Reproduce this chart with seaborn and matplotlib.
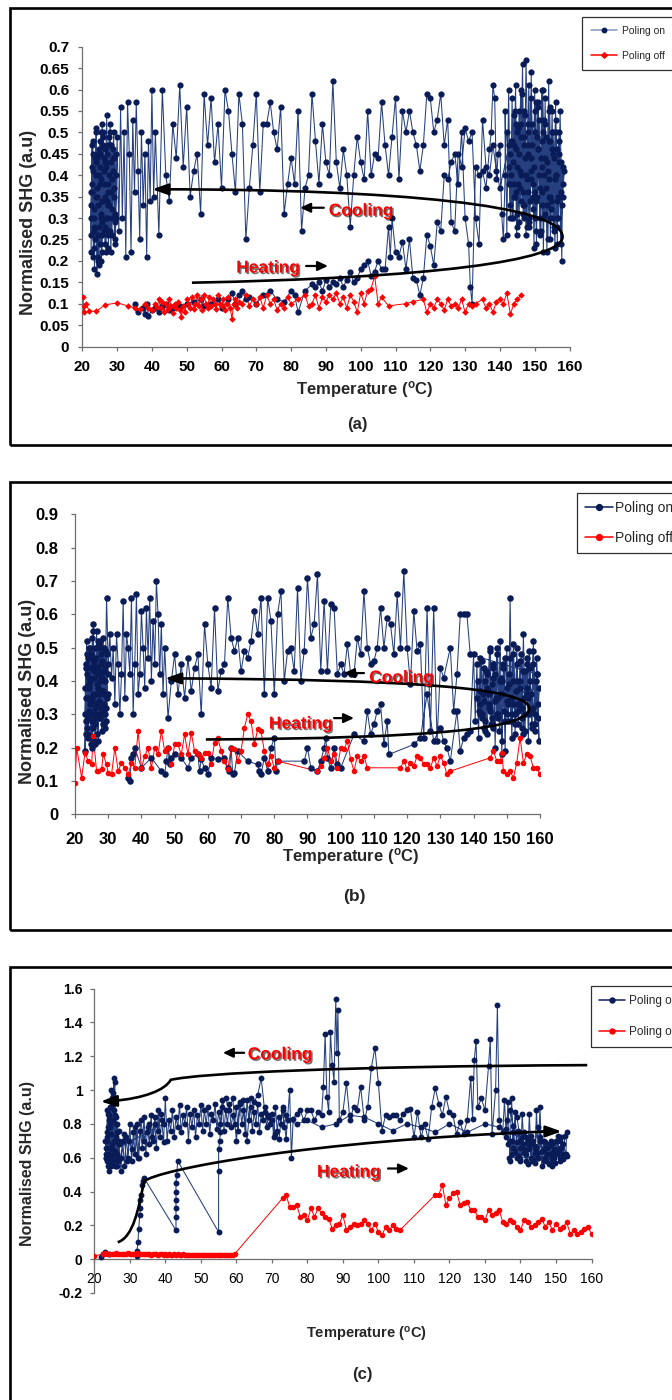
import numpy as np
import pandas as pd
import seaborn as sns
import matplotlib.pyplot as plt
import matplotlib.patheffects as pe
from matplotlib.path import Path
from matplotlib.patches import PathPatch, Rectangle
from matplotlib.lines import Line2D
from matplotlib.ticker import FuncFormatter

# ---------------------------------------------------------------- panel (a)
a_heat_T = [35, 36, 37.5, 38, 38.5, 39, 40, 41, 42, 43,
            44, 45, 46, 48, 50, 52, 54, 55, 57, 59,
            60, 62, 63, 64, 65, 66, 67, 68, 70, 72,
            74, 76, 78, 80, 81, 82, 84, 86, 87, 88,
            89, 90, 91, 92, 93, 94, 95, 96, 97, 98,
            99, 100, 101, 102, 103, 104, 105, 106, 107, 108,
            108.5, 109, 110, 111, 112, 113, 114, 115, 116, 117,
            118, 119, 120, 121, 122, 123, 124, 125, 126, 127,
            128, 129, 130, 131, 131.5, 132]
a_heat_S = [0.10, 0.08, 0.09, 0.075, 0.10, 0.072, 0.085, 0.09, 0.08, 0.095,
            0.10, 0.085, 0.09, 0.095, 0.10, 0.105, 0.11, 0.095, 0.10, 0.11,
            0.09, 0.11, 0.125, 0.10, 0.12, 0.13, 0.11, 0.115, 0.10, 0.12,
            0.13, 0.11, 0.105, 0.13, 0.12, 0.08, 0.13, 0.145, 0.14, 0.15,
            0.13, 0.155, 0.14, 0.15, 0.145, 0.16, 0.14, 0.155, 0.175, 0.15,
            0.16, 0.18, 0.19, 0.20, 0.165, 0.175, 0.20, 0.18, 0.18, 0.28,
            0.21, 0.30, 0.22, 0.21, 0.245, 0.18, 0.25, 0.16, 0.155, 0.12,
            0.16, 0.26, 0.235, 0.19, 0.29, 0.27, 0.40, 0.39, 0.43, 0.45,
            0.38, 0.50, 0.30, 0.24, 0.14, 0.10]
a_pre_T = [133, 134, 135, 136, 137, 137.5, 138, 138.5, 139, 139.5, 140, 140.5, 141, 141.5]
a_pre_S = [0.42, 0.40, 0.41, 0.37, 0.46, 0.50, 0.61, 0.58, 0.39, 0.45, 0.47, 0.31, 0.25, 0.40]
a_hot1_T = [141.5, 142, 142.5, 143, 143.5, 144, 144.5, 145, 145.5, 146,
            146.5, 147, 147.5, 148, 148.5, 149, 149.5, 150, 150.5, 151,
            151.5, 152, 152.5, 153, 153.5, 154, 154.5, 155, 155.5, 156,
            156.5, 157, 157.5, 158]
a_hot1_S = [0.55, 0.26, 0.60, 0.30, 0.58, 0.35, 0.61, 0.28, 0.55, 0.40,
            0.66, 0.30, 0.67, 0.45, 0.28, 0.64, 0.32, 0.60, 0.24, 0.57,
            0.26, 0.60, 0.30, 0.58, 0.22, 0.62, 0.35, 0.55, 0.28, 0.57,
            0.24, 0.50, 0.36, 0.42]
a_hot2_T = [157.8, 157, 156.5, 156, 155.5, 155, 154.5, 154, 153.5, 153,
            152.5, 152, 151.5, 151, 150.5, 150, 149.5, 149, 148.5, 148,
            147.5, 147, 146.5, 146, 145.5, 145, 144.5, 144, 143.5, 143,
            142.5, 142]
a_hot2_S = [0.20, 0.48, 0.30, 0.53, 0.27, 0.50, 0.25, 0.55, 0.33, 0.52,
            0.22, 0.48, 0.30, 0.56, 0.27, 0.50, 0.35, 0.58, 0.30, 0.47,
            0.26, 0.55, 0.33, 0.52, 0.29, 0.50, 0.36, 0.54, 0.30, 0.45,
            0.38, 0.50]
a_hot3_T = [142.5, 143, 143.5, 144, 144.5, 145, 145.5, 146, 146.5, 147,
            147.5, 148, 148.5, 149, 149.5, 150, 150.5, 151, 151.5, 152,
            152.5, 153, 153.5, 154, 154.5, 155, 155.5, 156, 156.5, 157,
            157.5, 158, 158.5]
a_hot3_S = [0.42, 0.33, 0.48, 0.38, 0.52, 0.31, 0.45, 0.60, 0.36, 0.47,
            0.40, 0.52, 0.29, 0.44, 0.38, 0.55, 0.34, 0.46, 0.37, 0.42,
            0.50, 0.31, 0.43, 0.35, 0.48, 0.30, 0.44, 0.40, 0.34, 0.43,
            0.24, 0.38, 0.41]
a_hot4_T = [158, 157, 156.5, 156, 155, 154.5, 154, 153, 152, 151,
            150, 149, 148, 147, 146, 145, 144, 143]
a_hot4_S = [0.35, 0.45, 0.28, 0.40, 0.46, 0.30, 0.39, 0.44, 0.36, 0.46,
            0.30, 0.41, 0.36, 0.49, 0.34, 0.42, 0.47, 0.38]
a_hot5_T = [143.2, 143.8, 144.3, 144.8, 145.3, 145.8, 146.3, 146.8, 147.3, 147.8,
            148.3, 148.8, 149.3, 149.8, 150.3, 150.8, 151.3, 151.8, 152.3, 152.8,
            153.3, 153.8, 154.3, 154.8, 155.3, 155.8, 156.3, 156.8, 157.3, 157.8]
a_hot5_S = [0.48, 0.30, 0.55, 0.26, 0.51, 0.37, 0.59, 0.33, 0.54, 0.28,
            0.61, 0.39, 0.52, 0.23, 0.57, 0.35, 0.53, 0.27, 0.60, 0.40,
            0.49, 0.25, 0.56, 0.32, 0.50, 0.23, 0.46, 0.30, 0.55, 0.33]
a_hot6_T = [157.5, 156.8, 156.2, 155.7, 155.2, 154.7, 154.2, 153.7, 153.2, 152.7,
            152.2, 151.7, 151.2, 150.7, 150.2, 149.7, 149.2, 148.7, 148.2, 147.7,
            147.2, 146.7, 146.2, 145.7, 145.2, 144.7, 144.2, 143.7, 143.2, 142.7]
a_hot6_S = [0.43, 0.35, 0.50, 0.39, 0.45, 0.34, 0.48, 0.41, 0.37, 0.53,
            0.33, 0.44, 0.40, 0.49, 0.36, 0.42, 0.47, 0.34, 0.50, 0.39,
            0.44, 0.31, 0.49, 0.41, 0.38, 0.46, 0.35, 0.43, 0.40, 0.47]
a_cool_T = [140, 139, 138, 137, 136, 135, 134, 133, 132, 131,
            130, 129, 128, 127, 126, 125, 124, 123, 122, 121,
            120, 119, 118, 117, 116, 115, 114, 113, 112, 111,
            110, 109, 108, 107, 106, 105, 104, 103, 102, 101,
            100, 99, 98, 97, 96, 95, 94, 93, 92, 91,
            90, 89, 88, 87, 86, 85, 84, 83, 82, 81,
            80, 79, 78, 77, 76, 75, 74, 73, 72, 71,
            70, 69, 68, 67, 66, 65, 64, 63, 62, 61,
            60, 59, 58, 57, 56, 55, 54, 53, 52, 51,
            50, 49, 48, 47, 46, 45, 44, 43, 42, 41]
a_cool_S = [0.37, 0.41, 0.47, 0.40, 0.42, 0.53, 0.24, 0.30, 0.50, 0.48,
            0.51, 0.42, 0.45, 0.27, 0.29, 0.53, 0.47, 0.59, 0.53, 0.50,
            0.58, 0.59, 0.47, 0.41, 0.47, 0.50, 0.55, 0.50, 0.55, 0.39,
            0.58, 0.49, 0.40, 0.47, 0.57, 0.44, 0.45, 0.40, 0.55, 0.39,
            0.43, 0.49, 0.40, 0.28, 0.40, 0.46, 0.37, 0.43, 0.62, 0.40,
            0.43, 0.52, 0.38, 0.48, 0.59, 0.40, 0.37, 0.27, 0.55, 0.38,
            0.44, 0.38, 0.31, 0.56, 0.46, 0.50, 0.57, 0.52, 0.52, 0.36,
            0.59, 0.47, 0.37, 0.25, 0.52, 0.59, 0.36, 0.45, 0.55, 0.60,
            0.37, 0.52, 0.43, 0.58, 0.47, 0.59, 0.31, 0.45, 0.41, 0.35,
            0.56, 0.42, 0.61, 0.44, 0.52, 0.34, 0.40, 0.60, 0.26, 0.50]
a_mid_T = [40.5, 40, 39.5, 39, 38.5, 38, 37.5, 37, 36.5, 36,
           35.5, 35, 34.5, 34, 33.5, 33, 32.5, 32, 31.5, 31,
           30.5, 30]
a_mid_S = [0.35, 0.60, 0.34, 0.48, 0.21, 0.45, 0.33, 0.50, 0.25, 0.41,
           0.57, 0.36, 0.53, 0.22, 0.45, 0.57, 0.21, 0.50, 0.30, 0.56,
           0.27, 0.49]
a_room_T = [29.5, 29, 28.5, 28, 27.5, 27, 26.5, 26, 25.5, 25, 24.5, 24, 23.5, 23, 22.5,
            22.7, 23.2, 23.7, 24.2, 24.7, 25.2, 25.7, 26.2, 26.7, 27.2, 27.7, 28.2, 28.7, 29.2, 29.7,
            29.4, 28.9, 28.4, 27.9, 27.4, 26.9, 26.4, 25.9, 25.4, 24.9, 24.4, 23.9, 23.4, 22.9,
            22.6, 23.1, 23.6, 24.1, 24.6, 25.1, 25.6, 26.1, 26.6, 27.1, 27.6, 28.1, 28.6,
            28.3, 27.8, 27.3, 26.8, 26.3, 25.8, 25.3, 24.8, 24.3, 23.8, 23.3, 22.8, 22.4]
a_room_S = [0.25, 0.50, 0.30, 0.47, 0.23, 0.54, 0.28, 0.50, 0.20, 0.48, 0.26, 0.50, 0.18, 0.45, 0.22,
            0.47, 0.21, 0.44, 0.17, 0.46, 0.24, 0.52, 0.27, 0.43, 0.30, 0.49, 0.22, 0.41, 0.35, 0.45,
            0.29, 0.44, 0.32, 0.50, 0.26, 0.42, 0.35, 0.47, 0.30, 0.40, 0.21, 0.43, 0.28, 0.38,
            0.30, 0.41, 0.25, 0.37, 0.33, 0.45, 0.22, 0.38, 0.46, 0.34, 0.40, 0.27, 0.39,
            0.43, 0.33, 0.38, 0.30, 0.44, 0.34, 0.39, 0.28, 0.35, 0.40, 0.32, 0.36, 0.26]
a_room2_T = [22.5, 23, 23.5, 24, 24.5, 25, 25.5, 26, 26.5, 27, 27.5, 28, 28.5, 29, 29.5,
             29.8, 29.3, 28.8, 28.3, 27.8, 27.3, 26.8, 26.3, 25.8, 25.3, 24.8, 24.3, 23.8, 23.3, 22.8,
             22.6, 23.4, 24.2, 25, 25.8, 26.6, 27.4, 28.2, 29, 29.8]
a_room2_S = [0.33, 0.48, 0.27, 0.51, 0.20, 0.42, 0.31, 0.49, 0.24, 0.45, 0.36, 0.52, 0.26, 0.44, 0.31,
             0.40, 0.24, 0.46, 0.36, 0.27, 0.47, 0.22, 0.41, 0.29, 0.50, 0.19, 0.44, 0.35, 0.23, 0.42,
             0.36, 0.30, 0.45, 0.38, 0.26, 0.43, 0.33, 0.47, 0.37, 0.30]

a_off_T = [20.2, 20.4, 20.6, 21, 22, 24, 26.5, 30, 33, 35,
           36.5, 38, 39, 40, 41, 41.5, 42, 42.5, 43, 43.5,
           44, 44.5, 45, 45.5, 46, 46.5, 47, 47.5, 48, 48.5,
           49, 49.5, 50, 50.5, 51, 51.5, 52, 52.5, 53, 53.5,
           54, 54.5, 55, 55.5, 56, 56.5, 57, 57.5, 58, 58.5,
           59, 59.5, 60, 60.5, 61, 61.5, 62, 62.5, 63, 63.5,
           64, 64.5, 65, 66, 67, 68, 69, 70, 71, 72,
           73, 74, 75, 76, 77, 78, 79, 80, 82, 84,
           85, 86, 87, 88, 89, 90, 91, 92, 93, 94,
           95, 96, 97, 98, 99, 100, 101, 102, 103, 104,
           105, 106, 108, 113, 115, 118, 119, 120, 121, 122,
           123, 124, 125, 126, 127, 128, 129, 130, 131, 132,
           133, 135, 136, 137, 138, 139, 140, 141, 142, 143,
           144, 145, 146]
a_off_S = [0.115, 0.08, 0.095, 0.10, 0.083, 0.082, 0.097, 0.102, 0.095, 0.09,
           0.088, 0.10, 0.09, 0.085, 0.10, 0.093, 0.11, 0.09, 0.105, 0.08,
           0.10, 0.087, 0.11, 0.095, 0.078, 0.10, 0.09, 0.105, 0.085, 0.07,
           0.095, 0.08, 0.11, 0.10, 0.09, 0.115, 0.087, 0.10, 0.12, 0.095,
           0.11, 0.085, 0.12, 0.10, 0.09, 0.115, 0.095, 0.11, 0.10, 0.087,
           0.12, 0.10, 0.095, 0.11, 0.085, 0.10, 0.115, 0.09, 0.065, 0.10,
           0.11, 0.09, 0.105, 0.10, 0.12, 0.095, 0.11, 0.10, 0.115, 0.09,
           0.12, 0.10, 0.11, 0.085, 0.10, 0.09, 0.115, 0.10, 0.11, 0.12,
           0.095, 0.10, 0.12, 0.09, 0.115, 0.105, 0.12, 0.11, 0.125, 0.10,
           0.115, 0.09, 0.12, 0.105, 0.08, 0.125, 0.10, 0.13, 0.135, 0.165,
           0.10, 0.115, 0.095, 0.10, 0.105, 0.11, 0.08, 0.10, 0.09, 0.11,
           0.10, 0.085, 0.11, 0.095, 0.10, 0.09, 0.11, 0.08, 0.10, 0.095,
           0.10, 0.11, 0.09, 0.10, 0.08, 0.105, 0.11, 0.10, 0.125, 0.075,
           0.10, 0.11, 0.12]

# ---------------------------------------------------------------- panel (b)
b_heat_T = [36, 36.5, 37, 37.5, 38, 40, 43, 46, 47, 47.5,
            48, 48.5, 49, 50, 52, 54, 55, 57, 57.5, 58,
            59, 60, 61, 63, 65, 66, 66.5, 67, 67.5, 68,
            69, 72, 75, 75.5, 76, 77, 78, 79, 80, 80.5,
            81, 89, 90, 91, 93, 94, 95, 95.5, 96, 97,
            98, 99, 100, 104, 107, 108, 109, 110, 111, 112,
            113, 114, 114.5, 122, 124, 126, 128, 130, 131, 132,
            133, 135, 136, 137, 138, 139]
b_heat_S = [0.11, 0.10, 0.17, 0.18, 0.20, 0.14, 0.17, 0.13, 0.12, 0.16,
            0.20, 0.15, 0.17, 0.18, 0.17, 0.14, 0.17, 0.18, 0.13, 0.165,
            0.14, 0.12, 0.17, 0.165, 0.17, 0.14, 0.13, 0.20, 0.12, 0.125,
            0.19, 0.16, 0.15, 0.13, 0.12, 0.17, 0.13, 0.20, 0.23, 0.13,
            0.16, 0.16, 0.20, 0.14, 0.13, 0.16, 0.20, 0.23, 0.17, 0.14,
            0.20, 0.15, 0.14, 0.24, 0.22, 0.31, 0.24, 0.27, 0.31, 0.33,
            0.21, 0.28, 0.18, 0.21, 0.23, 0.36, 0.22, 0.26, 0.22, 0.20,
            0.16, 0.31, 0.19, 0.23, 0.24, 0.25]
b_hot1_T = [140, 140.5, 141, 141.5, 142, 142.5, 143, 143.5, 144, 144.5,
            145, 145.5, 146, 146.5, 147, 147.5, 148, 148.5, 149, 149.5,
            150, 150.5, 151, 151.5, 152, 152.5, 153, 153.5, 154, 154.5,
            155, 155.5, 156, 156.5, 157, 157.5, 158, 158.5, 159, 159.5]
b_hot1_S = [0.48, 0.28, 0.45, 0.23, 0.47, 0.30, 0.44, 0.25, 0.42, 0.33,
            0.50, 0.27, 0.45, 0.20, 0.48, 0.30, 0.52, 0.22, 0.45, 0.19,
            0.50, 0.28, 0.65, 0.30, 0.48, 0.24, 0.50, 0.33, 0.46, 0.26,
            0.54, 0.30, 0.45, 0.22, 0.44, 0.26, 0.52, 0.25, 0.47, 0.33]
b_hot2_T = [159.7, 159, 158.5, 158, 157.5, 157, 156.5, 156, 155.5, 155,
            154.5, 154, 153.5, 153, 152.5, 152, 151.5, 151, 150.5, 150,
            149.5, 149, 148.5, 148, 147.5, 147, 146.5, 146, 145.5, 145,
            144.5, 144, 143.5, 143, 142.5, 142, 141.5, 141]
b_hot2_S = [0.22, 0.42, 0.30, 0.49, 0.27, 0.40, 0.35, 0.47, 0.25, 0.43,
            0.32, 0.38, 0.27, 0.45, 0.30, 0.40, 0.23, 0.47, 0.33, 0.38,
            0.28, 0.44, 0.18, 0.40, 0.35, 0.30, 0.42, 0.26, 0.39, 0.31,
            0.36, 0.24, 0.40, 0.34, 0.29, 0.37, 0.31, 0.35]
b_hot3_T = [141.3, 142, 142.7, 143.3, 144, 144.7, 145.3, 146, 146.7, 147.3,
            148, 148.7, 149.3, 150, 150.7, 151.3, 152, 152.7, 153.3, 154,
            154.7, 155.3, 156, 156.7, 157.3, 158, 158.7, 159.3, 159.8]
b_hot3_S = [0.40, 0.30, 0.36, 0.28, 0.38, 0.32, 0.27, 0.41, 0.35, 0.29,
            0.36, 0.40, 0.31, 0.34, 0.39, 0.28, 0.33, 0.37, 0.31, 0.40,
            0.29, 0.35, 0.38, 0.30, 0.36, 0.32, 0.40, 0.29, 0.38]
b_hot4_T = [141.8, 142.4, 143, 143.6, 144.2, 144.8, 145.4, 146, 146.6, 147.2,
            147.8, 148.4, 149, 149.6, 150.2, 150.8, 151.4, 152, 152.6, 153.2,
            153.8, 154.4, 155, 155.6, 156.2, 156.8, 157.4, 158, 158.6, 159.2]
b_hot4_S = [0.33, 0.46, 0.26, 0.43, 0.37, 0.49, 0.29, 0.44, 0.34, 0.50,
            0.25, 0.41, 0.36, 0.47, 0.30, 0.42, 0.35, 0.51, 0.27, 0.40,
            0.33, 0.48, 0.24, 0.43, 0.36, 0.49, 0.31, 0.45, 0.27, 0.42]
b_cool_T = [139, 138, 137, 136, 135, 134, 133, 131, 130, 129,
            128, 127, 126, 125, 124, 123, 122, 121, 120, 119,
            118, 117, 116, 115, 114, 113, 112, 111, 110, 109,
            108, 107, 106, 105, 104, 103, 102, 101, 100, 99,
            98, 97, 96, 95, 94, 93, 92, 91, 90, 89,
            88, 87, 86, 85, 84, 83, 82, 81, 80, 79,
            78, 77, 76, 75, 74, 73, 72, 71, 70, 69,
            68, 67, 66, 65, 64, 63, 62, 61, 60, 59,
            58, 57, 56, 55, 54, 53, 52, 51, 50, 49,
            48, 47]
b_cool_S = [0.48, 0.60, 0.60, 0.60, 0.42, 0.31, 0.50, 0.41, 0.44, 0.22,
            0.62, 0.25, 0.62, 0.23, 0.51, 0.49, 0.61, 0.39, 0.50, 0.73,
            0.50, 0.66, 0.48, 0.57, 0.59, 0.50, 0.62, 0.50, 0.46, 0.45,
            0.50, 0.67, 0.48, 0.53, 0.42, 0.42, 0.51, 0.42, 0.45, 0.42,
            0.62, 0.63, 0.43, 0.64, 0.43, 0.72, 0.57, 0.53, 0.71, 0.49,
            0.40, 0.68, 0.43, 0.50, 0.49, 0.40, 0.67, 0.60, 0.36, 0.58,
            0.65, 0.36, 0.65, 0.54, 0.61, 0.52, 0.47, 0.49, 0.43, 0.53,
            0.49, 0.53, 0.65, 0.45, 0.43, 0.37, 0.62, 0.38, 0.45, 0.57,
            0.30, 0.48, 0.44, 0.37, 0.47, 0.35, 0.45, 0.36, 0.48, 0.40,
            0.29, 0.50]
b_mid_T = [46.5, 46, 45.5, 45, 44.5, 44, 43.5, 43, 42.5, 42,
           41.5, 41, 40.5, 40, 39.5, 39, 38.5, 38, 37.5, 37,
           36.5, 36, 35.5, 35, 34.5, 34, 33.5, 33, 32.5, 32,
           31.5, 31, 30.5, 30]
b_mid_S = [0.36, 0.57, 0.42, 0.60, 0.70, 0.45, 0.58, 0.40, 0.65, 0.47,
           0.62, 0.38, 0.50, 0.61, 0.42, 0.36, 0.66, 0.45, 0.30, 0.65,
           0.42, 0.50, 0.54, 0.35, 0.64, 0.42, 0.30, 0.45, 0.54, 0.33,
           0.50, 0.41, 0.54, 0.45]
b_room_T = [29.5, 29, 28.5, 28, 27.5, 27, 26.5, 26, 25.5, 25, 24.5, 24, 23.5, 23,
            23.2, 23.7, 24.2, 24.7, 25.2, 25.7, 26.2, 26.7, 27.2, 27.7, 28.2, 28.7, 29.2, 29.7,
            29.4, 28.9, 28.4, 27.9, 27.4, 26.9, 26.4, 25.9, 25.4, 24.9, 24.4, 23.9, 23.4,
            23.1, 23.6, 24.1, 24.6, 25.1, 25.6, 26.1, 26.6, 27.1, 27.6, 28.1, 28.6, 29.1,
            28.8, 28.3, 27.8, 27.3, 26.8, 26.3, 25.8, 25.3, 24.8, 24.3, 23.8, 23.3]
b_room_S = [0.65, 0.30, 0.50, 0.25, 0.52, 0.22, 0.55, 0.27, 0.57, 0.20, 0.50, 0.23, 0.48, 0.19,
            0.45, 0.26, 0.50, 0.21, 0.53, 0.30, 0.47, 0.24, 0.51, 0.32, 0.46, 0.27, 0.49, 0.35,
            0.28, 0.44, 0.31, 0.48, 0.29, 0.42, 0.36, 0.50, 0.26, 0.44, 0.33, 0.47, 0.24,
            0.38, 0.42, 0.31, 0.40, 0.35, 0.45, 0.32, 0.39, 0.43, 0.30, 0.41, 0.36, 0.40,
            0.33, 0.37, 0.42, 0.34, 0.38, 0.29, 0.41, 0.36, 0.30, 0.39, 0.35, 0.28]
b_room2_T = [23, 23.5, 24, 24.5, 25, 25.5, 26, 26.5, 27, 27.5, 28, 28.5, 29, 29.5,
             29.8, 29.3, 28.8, 28.3, 27.8, 27.3, 26.8, 26.3, 25.8, 25.3, 24.8, 24.3, 23.8, 23.3,
             23.4, 24.2, 25, 25.8, 26.6, 27.4, 28.2, 29, 29.8]
b_room2_S = [0.30, 0.52, 0.24, 0.47, 0.34, 0.55, 0.21, 0.44, 0.29, 0.50, 0.37, 0.53, 0.26, 0.48,
             0.42, 0.32, 0.50, 0.27, 0.45, 0.36, 0.52, 0.30, 0.43, 0.23, 0.48, 0.38, 0.29, 0.44,
             0.35, 0.41, 0.28, 0.46, 0.33, 0.40, 0.30, 0.43, 0.36]

b_off_T = [20, 20.5, 22, 23, 24, 25, 25.5, 26.5, 27, 28,
           28.5, 29.5, 30, 31, 32, 33, 34, 35, 36, 37,
           38, 39, 40, 41, 42, 43, 44, 45, 46, 47,
           48, 49, 50, 51, 52, 53, 54, 55, 56, 57,
           58, 59, 60, 61, 62, 63, 64, 65, 66, 67,
           68, 69, 70, 71, 72, 73, 74, 75, 76, 77,
           78, 79, 80, 81, 93, 94, 95, 96, 97, 98,
           99, 100, 101, 102, 103, 104, 105, 106, 107, 108,
           118, 119, 120, 121, 122, 123, 124, 125, 126, 127,
           128, 129, 130, 131, 132, 133, 145, 146, 147, 148,
           148.5, 149, 150, 151, 152, 153, 154, 155, 156, 157,
           158, 159, 160]
b_off_S = [0.095, 0.20, 0.11, 0.185, 0.16, 0.15, 0.235, 0.13, 0.13, 0.135,
           0.18, 0.15, 0.125, 0.12, 0.20, 0.13, 0.155, 0.14, 0.12, 0.155,
           0.14, 0.25, 0.14, 0.175, 0.20, 0.14, 0.20, 0.18, 0.25, 0.19,
           0.20, 0.15, 0.21, 0.21, 0.18, 0.24, 0.18, 0.245, 0.19, 0.18,
           0.17, 0.185, 0.185, 0.15, 0.215, 0.23, 0.19, 0.16, 0.135, 0.20,
           0.195, 0.16, 0.19, 0.26, 0.30, 0.28, 0.21, 0.255, 0.25, 0.19,
           0.15, 0.175, 0.14, 0.16, 0.13, 0.145, 0.17, 0.20, 0.16, 0.18,
           0.14, 0.20, 0.195, 0.22, 0.165, 0.13, 0.175, 0.16, 0.175, 0.14,
           0.14, 0.16, 0.135, 0.155, 0.145, 0.175, 0.17, 0.15, 0.15, 0.14,
           0.17, 0.145, 0.175, 0.155, 0.12, 0.13, 0.17, 0.19, 0.16, 0.16,
           0.185, 0.13, 0.12, 0.13, 0.11, 0.155, 0.23, 0.155, 0.18, 0.175,
           0.14, 0.14, 0.12]

# ---------------------------------------------------------------- panel (c)
c_rise_T = [22, 22.5, 23, 24, 32, 32, 32.3, 32.5, 32.8, 33,
            33, 33.2, 33.5, 33.8, 34, 43, 43, 43, 43, 43,
            43, 43.2, 43.5, 55, 55, 55, 55.3, 55.5]
c_rise_S = [0.01, 0.03, 0.045, 0.03, 0.02, 0.05, 0.10, 0.18, 0.26, 0.30,
            0.35, 0.38, 0.44, 0.46, 0.48, 0.17, 0.25, 0.30, 0.35, 0.40,
            0.45, 0.50, 0.58, 0.16, 0.52, 0.65, 0.70, 0.75]
c_band_T = [56, 57, 58, 59, 60, 61, 62, 63, 64, 65,
            66, 67, 68, 69, 70, 71, 72, 73, 74, 75,
            75.5, 76, 77, 78, 79, 80, 81, 82, 83, 84,
            84.5, 85, 85.5, 86, 86.5, 87, 87.5, 88, 88.3, 88.6,
            89, 90, 91, 92, 93, 94, 95, 96, 97, 98,
            99, 100, 101, 102, 103, 104, 105, 106, 107, 108,
            109, 110, 111, 112, 113, 114, 115, 116, 117, 118,
            119, 120, 121, 122, 123, 124, 125, 126, 126.5, 127,
            127.5, 128, 129, 130, 131, 131.5, 132, 133, 133.5, 134,
            135]
c_band_S = [0.90, 0.95, 0.88, 0.95, 0.70, 0.92, 0.94, 0.70, 0.95, 0.93,
            0.97, 1.07, 0.87, 0.85, 0.82, 0.74, 0.71, 0.90, 0.71, 1.00,
            0.60, 0.83, 0.86, 0.88, 0.82, 0.88, 0.88, 0.82, 0.87, 0.85,
            1.02, 1.33, 0.96, 0.87, 1.34, 1.15, 1.05, 1.54, 1.22, 1.47,
            0.82, 0.87, 1.04, 0.82, 0.90, 0.88, 1.02, 0.82, 0.90, 1.13,
            1.25, 1.04, 0.76, 0.85, 0.84, 0.85, 0.85, 0.82, 0.86, 0.88,
            0.89, 0.72, 0.87, 0.72, 0.80, 0.71, 0.90, 1.01, 0.92, 0.85,
            0.96, 0.87, 0.85, 0.74, 0.81, 0.74, 0.82, 1.07, 0.83, 1.18,
            1.29, 0.90, 0.95, 0.88, 1.14, 1.30, 0.74, 1.00, 1.50, 0.82,
            0.75]
c_hot1_T = [135.5, 136, 136.5, 137, 137.5, 138, 138.5, 139, 139.5, 140,
            140.5, 141, 141.5, 142, 142.5, 143, 143.5, 144, 144.5, 145,
            145.5, 146, 146.5, 147, 147.5, 148, 148.5, 149, 149.5, 150,
            150.5, 151, 151.5, 152, 152.5, 153]
c_hot1_S = [0.94, 0.72, 0.93, 0.58, 0.95, 0.66, 0.87, 0.60, 0.75, 0.58,
            0.86, 0.65, 0.72, 0.56, 0.86, 0.60, 0.70, 0.57, 0.88, 0.63,
            0.90, 0.55, 0.70, 0.60, 0.66, 0.56, 0.70, 0.55, 0.65, 0.62,
            0.73, 0.60, 0.72, 0.59, 0.73, 0.75]
c_hot2_T = [152.8, 152, 151.5, 151, 150.5, 150, 149.5, 149, 148.5, 148,
            147.5, 147, 146.5, 146, 145.5, 145, 144.5, 144, 143.5, 143,
            142.5, 142, 141.5, 141, 140.5, 140, 139.5, 139, 138.5, 138,
            137.5, 137, 136.5, 136]
c_hot2_S = [0.62, 0.68, 0.66, 0.58, 0.64, 0.70, 0.60, 0.63, 0.57, 0.67,
            0.62, 0.69, 0.58, 0.64, 0.72, 0.60, 0.66, 0.63, 0.59, 0.68,
            0.65, 0.70, 0.58, 0.63, 0.72, 0.66, 0.61, 0.69, 0.64, 0.75,
            0.62, 0.70, 0.68, 0.77]
c_hot3_T = [136.3, 137, 138, 139, 140, 141, 142, 143, 144, 145,
            146, 147, 148, 149, 150, 151, 152, 153]
c_hot3_S = [0.82, 0.88, 0.79, 0.84, 0.70, 0.75, 0.68, 0.73, 0.67, 0.78,
            0.70, 0.66, 0.68, 0.60, 0.64, 0.70, 0.62, 0.61]
c_hot4_T = [136.8, 137.6, 138.4, 139.2, 140, 140.8, 141.6, 142.4, 143.2, 144,
            144.8, 145.6, 146.4, 147.2, 148, 148.8, 149.6, 150.4, 151.2, 152]
c_hot4_S = [0.60, 0.70, 0.63, 0.76, 0.59, 0.68, 0.62, 0.72, 0.58, 0.66,
            0.60, 0.70, 0.64, 0.58, 0.62, 0.68, 0.57, 0.63, 0.66, 0.60]
c_cool_T = [134, 130, 125, 120, 116, 112, 108, 104, 100, 96, 92, 88, 84, 80, 77]
c_cool_S = [0.78, 0.80, 0.75, 0.80, 0.75, 0.78, 0.80, 0.76, 0.80, 0.84, 0.85, 0.80, 0.78, 0.82, 0.80]
c_dense_T = [74.5, 74, 73.5, 73, 72.5, 72, 71.5, 71, 70.5, 70,
             69.5, 69, 68.5, 68, 67.5, 67, 66.5, 66, 65.5, 65,
             64.5, 64, 63.5, 63, 62.5, 62, 61.5, 61, 60.5, 60,
             59.5, 59, 58.5, 58, 57.5, 57, 56.5, 56, 55.5, 55,
             54.5, 54, 53.5, 53, 52.5, 52, 51.5, 51, 50.5, 50,
             49.5, 49, 48.5, 48, 47.5, 47, 46.5, 46, 45.5, 45,
             44.5, 44, 43.5, 43, 42.5, 42, 41.5, 41, 40.5, 40]
c_dense_S = [0.82, 0.85, 0.78, 0.88, 0.80, 0.84, 0.76, 0.90, 0.72, 0.86,
             0.80, 0.84, 0.78, 0.90, 0.82, 0.86, 0.75, 0.92, 0.80, 0.87,
             0.76, 0.90, 0.82, 0.94, 0.74, 0.88, 0.80, 0.93, 0.76, 0.90,
             0.80, 0.85, 0.78, 0.92, 0.80, 0.88, 0.76, 0.94, 0.80, 0.87,
             0.77, 0.92, 0.82, 0.86, 0.74, 0.90, 0.80, 0.88, 0.76, 0.91,
             0.80, 0.85, 0.72, 0.88, 0.78, 0.86, 0.70, 0.90, 0.80, 0.85,
             0.75, 0.91, 0.78, 0.84, 0.72, 0.88, 0.76, 0.82, 0.70, 0.95]
c_low_T = [39.5, 39, 38.5, 38, 37.5, 37, 36.5, 36, 35.5, 35,
           34.5, 34, 33.5, 33, 32.5, 32, 31.5, 31, 30.5, 30,
           29.5, 29, 28.5, 28, 27.5, 27]
c_low_S = [0.69, 0.82, 0.72, 0.88, 0.66, 0.80, 0.70, 0.85, 0.68, 0.78,
           0.62, 0.84, 0.66, 0.76, 0.60, 0.80, 0.62, 0.75, 0.58, 0.80,
           0.60, 0.72, 0.55, 0.70, 0.52, 0.68]
c_room_T = [26.5, 26.2, 26, 25.8, 25.6, 25.5, 25.3, 25.1, 25, 24.8,
            24.6, 24.5, 24.3, 24.1, 24, 23.8, 23.6, 23.5, 23.3, 23.2,
            23.5, 23.8, 24, 24.3, 24.6, 24.9, 25.2, 25.5, 25.8, 26,
            26.3, 26.6, 26.9, 26.5, 26, 25.5, 25, 24.5, 24, 23.6]
c_room_S = [0.55, 0.80, 0.62, 1.05, 0.70, 1.07, 0.58, 0.95, 0.65, 1.00,
            0.55, 0.90, 0.60, 0.85, 0.52, 0.78, 0.58, 0.72, 0.60, 0.66,
            0.75, 0.55, 0.82, 0.60, 0.90, 0.58, 0.98, 0.62, 0.85, 0.55,
            0.75, 0.60, 0.70, 0.80, 0.72, 0.88, 0.68, 0.78, 0.62, 0.70]
c_low2_T = [27.5, 28.3, 29.1, 29.9, 30.7, 31.5, 32.3, 33.1, 33.9, 34.7,
            35.5, 36.3, 37.1, 37.9, 38.7, 39.5]
c_low2_S = [0.60, 0.74, 0.58, 0.70, 0.65, 0.78, 0.60, 0.82, 0.70, 0.75,
            0.80, 0.72, 0.84, 0.76, 0.86, 0.80]
c_room2_T = [23.3, 23.7, 24.1, 24.5, 24.9, 25.3, 25.7, 26.1, 26.5, 26.9,
             26.6, 26.2, 25.8, 25.4, 25, 24.6, 24.2, 23.8, 23.4, 23.1]
c_room2_S = [0.62, 0.88, 0.57, 0.80, 0.60, 0.92, 0.55, 0.84, 0.62, 0.76,
             0.58, 0.70, 0.64, 0.82, 0.56, 0.74, 0.66, 0.86, 0.60, 0.70]

c_off_flat_T = [20.0, 22.5, 23.0, 23.5, 24.0, 24.5, 25.0, 25.5, 26.0, 26.5,
                27.0, 27.5, 28.0, 28.5, 29.0, 29.5, 30.0, 30.5, 31.0, 31.5,
                32.0, 32.5, 33.0, 33.5, 34.0, 34.5, 35.0, 35.5, 36.0, 36.5,
                37.0, 37.5, 38.0, 38.5, 39.0, 39.5, 40.0, 40.5, 41.0, 41.5,
                42.0, 42.5, 43.0, 43.5, 44.0, 44.5, 45.0, 45.5, 46.0, 46.5,
                47.0, 47.5, 48.0, 48.5, 49.0, 49.5, 50.0, 50.5, 51.0, 51.5,
                52.0, 52.5, 53.0, 53.5, 54.0, 54.5, 55.0, 55.5, 56.0, 56.5,
                57.0, 57.5, 58.0, 58.5, 59.0, 59.5]
c_off_flat_S = [0.020, 0.030, 0.035, 0.030, 0.032, 0.028, 0.033, 0.030, 0.035, 0.031,
                0.029, 0.033, 0.030, 0.032, 0.028, 0.034, 0.030, 0.031, 0.033, 0.029,
                0.035, 0.030, 0.031, 0.028, 0.032, 0.030, 0.029, 0.031, 0.027, 0.030,
                0.028, 0.031, 0.026, 0.029, 0.030, 0.027, 0.028, 0.026, 0.029, 0.027,
                0.025, 0.028, 0.026, 0.030, 0.027, 0.025, 0.028, 0.024, 0.026, 0.027,
                0.025, 0.023, 0.026, 0.024, 0.025, 0.027, 0.024, 0.026, 0.023, 0.025,
                0.024, 0.026, 0.023, 0.025, 0.024, 0.026, 0.022, 0.025, 0.024, 0.023,
                0.025, 0.022, 0.024, 0.026, 0.025, 0.030]
c_off_hot_T = [73, 74, 75, 76, 77, 78, 79, 80, 81, 82,
               83, 84, 85, 86, 87, 88, 89, 90, 91, 92,
               93, 94, 95, 96, 97, 98, 99, 100, 101, 102,
               103, 104, 105, 106, 116, 117, 118, 119, 120, 121,
               122, 123, 124, 125, 126, 127, 128, 129, 130, 131,
               132, 133, 134, 135, 136, 137, 138, 139, 140, 141,
               142, 143, 144, 145, 146, 147, 148, 149, 150, 151,
               152, 153, 154, 155, 156, 157, 158, 159, 160]
c_off_hot_S = [0.36, 0.38, 0.31, 0.31, 0.32, 0.25, 0.26, 0.23, 0.30, 0.25,
               0.30, 0.27, 0.25, 0.24, 0.18, 0.20, 0.21, 0.26, 0.17, 0.19,
               0.21, 0.20, 0.21, 0.23, 0.21, 0.17, 0.21, 0.16, 0.14, 0.19,
               0.17, 0.20, 0.18, 0.17, 0.38, 0.38, 0.44, 0.32, 0.36, 0.39,
               0.40, 0.32, 0.33, 0.34, 0.29, 0.29, 0.25, 0.25, 0.23, 0.29,
               0.26, 0.27, 0.29, 0.22, 0.21, 0.23, 0.22, 0.19, 0.17, 0.23,
               0.22, 0.19, 0.20, 0.22, 0.24, 0.19, 0.22, 0.17, 0.21, 0.18,
               0.19, 0.22, 0.15, 0.17, 0.15, 0.16, 0.18, 0.19, 0.15]

LEGEND_LABELS = ["Poling on", "Poling off"]
PANEL_TAGS = ["(a)", "(b)", "(c)"]

# ---------------------------------------------------------------- style
sns.set_style("white")
plt.rcParams["font.family"] = ["Liberation Sans", "DejaVu Sans"]
plt.rcParams["mathtext.fontset"] = "custom"
plt.rcParams["mathtext.rm"] = "Liberation Sans"
plt.rcParams["mathtext.bf"] = "Liberation Sans:bold"
plt.rcParams["mathtext.it"] = "Liberation Sans:italic"

NAVY = "#0a1c57"
BLUE_LINE = "#26407f"
RED = "#ff0000"

W, H = 672, 1400
fig = plt.figure(figsize=(W / 100, H / 100), dpi=100)


def fx(px):
    return px / W


def fy(py):
    return 1 - py / H


def px_axes(left, top, right, bottom):
    return fig.add_axes([fx(left), fy(bottom), (right - left) / W, (bottom - top) / H])


def frame(top, bottom):
    fig.add_artist(Rectangle((fx(9.5), fy(bottom)), (760 - 9.5) / W, (bottom - top) / H,
                             transform=fig.transFigure, fill=False, lw=1.9,
                             ec="black", clip_on=False))


def series(ax, T, S, line_color, mk_color, marker, size, lw):
    df = pd.DataFrame({"T": T, "S": S})
    sns.lineplot(data=df, x="T", y="S", sort=False, estimator=None, color=line_color,
                 lw=lw, ax=ax, legend=False, zorder=2)
    sns.scatterplot(data=df, x="T", y="S", color=mk_color, marker=marker, s=size,
                    linewidth=0, ax=ax, legend=False, zorder=3)


def style_axes(ax, yticks, ylim, fs, ypad, xpad):
    ax.set_xlim(20, 160)
    ax.set_ylim(*ylim)
    ax.set_xticks(np.arange(20, 161, 10))
    ax.set_yticks(yticks)
    fmt = FuncFormatter(lambda v, p: "0" if abs(v) < 1e-9 else f"{v:g}")
    ax.xaxis.set_major_formatter(fmt)
    ax.yaxis.set_major_formatter(fmt)
    for side in ("top", "right"):
        ax.spines[side].set_visible(False)
    for side in ("left", "bottom"):
        ax.spines[side].set_color("#6f6f6f")
        ax.spines[side].set_linewidth(0.9)
    ax.tick_params(axis="both", direction="out", length=3, width=0.9, color="#6f6f6f",
                   labelsize=fs, bottom=True, left=True, labelcolor="black")
    ax.tick_params(axis="y", pad=ypad)
    ax.tick_params(axis="x", pad=xpad)
    plt.setp(ax.get_xticklabels(), fontweight="bold")
    plt.setp(ax.get_yticklabels(), fontweight="bold")
    ax.set_xlabel("")
    ax.set_ylabel("")
    ax.set_facecolor("none")


def loop(ax, verts, codes, lw=1.9):
    ax.add_patch(PathPatch(Path(verts, codes), fill=False, lw=lw, ec="black", zorder=5))


def big_head(ax, tail, tip):
    ax.annotate("", xy=tip, xytext=tail, zorder=6,
                arrowprops=dict(arrowstyle="-|>,head_length=0.9,head_width=0.32",
                                mutation_scale=10.5, lw=1.9, color="black",
                                shrinkA=0, shrinkB=0))


def small_arrow(ax, tail, tip):
    ax.annotate("", xy=tip, xytext=tail, zorder=6,
                arrowprops=dict(arrowstyle="-|>,head_length=0.6,head_width=0.28",
                                mutation_scale=10, lw=1.6, color="black",
                                shrinkA=0, shrinkB=0))


def tag(ax, x, y, s):
    ax.text(x, y, s, color=RED, fontsize=12.5, fontweight="bold", ha="center", va="center",
            zorder=7, path_effects=[pe.withSimplePatchShadow(offset=(1.1, -1.1),
                                                             shadow_rgbFace="black", alpha=0.55)])


def legend(ax, x, y, fs, on_line, off_marker, ms_on, ms_off, bp, ls, hl, htp):
    h_on = Line2D([], [], color=on_line, lw=1.1, marker="o", ms=ms_on, mfc=NAVY, mec=NAVY)
    h_off = Line2D([], [], color=RED, lw=1.1, marker=off_marker, ms=ms_off, mfc=RED, mec=RED)
    leg = ax.legend([h_on, h_off], LEGEND_LABELS, loc="upper left",
                    bbox_to_anchor=(fx(x), fy(y)), bbox_transform=fig.transFigure,
                    fontsize=fs, frameon=True, fancybox=False, framealpha=1,
                    edgecolor="#303030", borderpad=bp, labelspacing=ls,
                    handlelength=hl, handletextpad=htp, borderaxespad=0)
    leg.get_frame().set_linewidth(0.9)


def fig_label(x, y, s, fs, rot=0):
    fig.text(fx(x), fy(y), s, fontsize=fs, fontweight="bold", ha="center", va="center",
             rotation=rot)


XLABEL = "Temperature ($^{\\mathbf{o}}$C)"
YLABEL = "Normalised SHG (a.u)"
C4 = [Path.MOVETO, Path.CURVE4, Path.CURVE4, Path.CURVE4,
      Path.CURVE4, Path.CURVE4, Path.CURVE4]

# ================================================================ (a)
frame(8, 445)
ax = px_axes(82.3, 46.7, 569.5, 346.5)
a_on_T = (a_heat_T + a_pre_T + a_hot1_T + a_hot2_T + a_hot3_T + a_hot4_T + a_hot5_T
          + a_hot6_T + a_cool_T + a_mid_T + a_room_T + a_room2_T)
a_on_S = (a_heat_S + a_pre_S + a_hot1_S + a_hot2_S + a_hot3_S + a_hot4_S + a_hot5_S
          + a_hot6_S + a_cool_S + a_mid_S + a_room_S + a_room2_S)
series(ax, a_on_T, a_on_S, BLUE_LINE, NAVY, "o", 20, 0.75)
series(ax, a_off_T, a_off_S, RED, RED, "D", 11, 0.7)
style_axes(ax, np.round(np.arange(0, 0.7001, 0.05), 2), (0, 0.7), 11, 6.5, 7)
loop(ax, [(51.5, 0.149), (120, 0.16), (158, 0.2), (158, 0.256),
          (158, 0.33), (110, 0.367), (43, 0.367)], C4)
big_head(ax, (45, 0.367), (40.1, 0.367))
small_arrow(ax, (89.4, 0.324), (82.6, 0.324))
small_arrow(ax, (84.3, 0.188), (90.6, 0.188))
tag(ax, 100.1, 0.316, "Cooling")
tag(ax, 73.4, 0.183, "Heating")
legend(ax, 582, 17, 7.5, "#8497bf", "D", 3.2, 2.8, 0.85, 1.45, 2.5, 0.5)
fig_label(29, 222, YLABEL, 13, 90)
fig_label(365, 390, XLABEL, 12)
fig_label(357, 425, PANEL_TAGS[0], 12)

# ================================================================ (b)
frame(482, 930)
ax = px_axes(75, 514.3, 540, 814.5)
b_on_T = (b_heat_T + b_hot1_T + b_hot2_T + b_hot3_T + b_hot4_T + b_cool_T + b_mid_T
          + b_room_T + b_room2_T)
b_on_S = (b_heat_S + b_hot1_S + b_hot2_S + b_hot3_S + b_hot4_S + b_cool_S + b_mid_S
          + b_room_S + b_room2_S)
series(ax, b_on_T, b_on_S, BLUE_LINE, NAVY, "o", 22, 0.75)
series(ax, b_off_T, b_off_S, RED, RED, "o", 16, 0.7)
style_axes(ax, np.round(np.arange(0, 0.9001, 0.1), 1), (0, 0.9), 12, 9, 9.5)
loop(ax, [(59.4, 0.225), (130, 0.228), (157, 0.26), (156.8, 0.318),
          (156.5, 0.38), (120, 0.405), (50, 0.408)], C4)
big_head(ax, (52, 0.408), (47.1, 0.408))
small_arrow(ax, (107.0, 0.424), (101.0, 0.424))
small_arrow(ax, (98.0, 0.289), (104.0, 0.289))
tag(ax, 118.3, 0.409, "Cooling")
tag(ax, 88.0, 0.271, "Heating")
legend(ax, 576.5, 493, 10, NAVY, "o", 4.2, 4.2, 0.6, 1.1, 2.0, 0.15)
fig_label(28, 691, YLABEL, 13, 90)
fig_label(351, 857, XLABEL, 12)
fig_label(354, 896, PANEL_TAGS[1], 12.5)

# ================================================================ (c)
frame(967, 1420)
ax = px_axes(94.3, 988.5, 591.5, 1293)
c_on_T = (c_rise_T + c_band_T + c_hot1_T + c_hot2_T + c_hot3_T + c_hot4_T + c_cool_T
          + c_dense_T + c_low_T + c_room_T + c_low2_T + c_room2_T)
c_on_S = (c_rise_S + c_band_S + c_hot1_S + c_hot2_S + c_hot3_S + c_hot4_S + c_cool_S
          + c_dense_S + c_low_S + c_room_S + c_low2_S + c_room2_S)
series(ax, c_on_T, c_on_S, BLUE_LINE, NAVY, "o", 18, 0.75)
series(ax, c_off_flat_T + c_off_hot_T, c_off_flat_S + c_off_hot_S, RED, RED, "o", 16, 0.7)
style_axes(ax, np.round(np.arange(-0.2, 1.6001, 0.2), 1), (-0.2, 1.6), 10, 5.5, 6.5)
ax.spines["bottom"].set_position(("data", 0))
loop(ax, [(158.8, 1.147), (90, 1.14), (50, 1.1), (41.5, 1.06),
          (40, 1.0), (34, 0.95), (25, 0.935)], C4)
big_head(ax, (26, 0.935), (21.8, 0.932))
loop(ax, [(26.6, 0.10), (31, 0.13), (32.5, 0.3), (34, 0.46),
          (38, 0.53), (80, 0.7), (148, 0.755)], C4)
big_head(ax, (146, 0.755), (151.6, 0.755))
small_arrow(ax, (62.2, 1.22), (56.2, 1.22))
small_arrow(ax, (102.7, 0.536), (108.6, 0.536))
tag(ax, 72.3, 1.208, "Cooling")
tag(ax, 91.7, 0.513, "Heating")
legend(ax, 590.6, 986, 8.5, NAVY, "o", 3.6, 3.6, 0.75, 1.6, 2.15, 0.38)
fig_label(28, 1163, YLABEL, 11.5, 90)
fig_label(367, 1334, XLABEL, 10.5)
fig_label(362, 1375, PANEL_TAGS[2], 12)

fig.savefig("out.png", dpi=100)
